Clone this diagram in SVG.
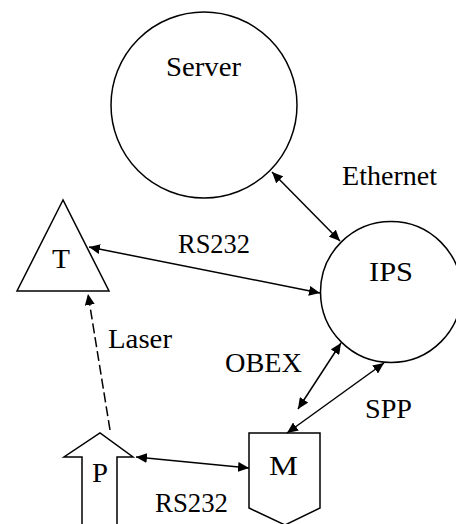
<svg xmlns="http://www.w3.org/2000/svg" width="456" height="524" viewBox="0 0 456 524">
<style>
.shape{fill:#fff;stroke:#000;stroke-width:1.5}
.lbl{font-family:'Liberation Serif','DejaVu Serif','Times New Roman',serif;font-size:28px;fill:#000}
.conn{stroke:#000;stroke-width:1.5;fill:none}
</style>
<defs>
<marker id="ah" markerUnits="userSpaceOnUse" markerWidth="12" markerHeight="10" refX="11" refY="5" orient="auto-start-reverse">
<path d="M0,0 L11,5 L0,10 z" fill="#000"/>
</marker>
</defs>
<rect width="456" height="524" fill="#fff"/>
<g id="server">
<circle class="shape" cx="204" cy="105" r="93"/>
<text class="lbl" font-family="Liberation Serif, serif" x="166" y="76" textLength="75" lengthAdjust="spacingAndGlyphs">Server</text>
</g>
<g id="ips">
<circle class="shape" cx="391" cy="292" r="70.5"/>
<text class="lbl" font-family="Liberation Serif, serif" x="369" y="281" textLength="44" lengthAdjust="spacingAndGlyphs">IPS</text>
</g>
<g id="t">
<path class="shape" d="M63,200 L17,291 L109,291 Z"/>
<text class="lbl" font-family="Liberation Serif, serif" x="52" y="268" textLength="18" lengthAdjust="spacingAndGlyphs">T</text>
</g>
<g id="m">
<path class="shape" d="M249,433 L320,433 L320,508 L285,525 L249,508 Z"/>
<text class="lbl" font-family="Liberation Serif, serif" x="269" y="475" textLength="29" lengthAdjust="spacingAndGlyphs">M</text>
</g>
<g id="p">
<path class="shape" d="M82,530 L82,457 L64,457 L100,433 L133,457 L117,457 L117,530"/>
<text class="lbl" font-family="Liberation Serif, serif" x="92" y="482" textLength="16" lengthAdjust="spacingAndGlyphs">P</text>
</g>
<g id="connectors">
<line class="conn" x1="272" y1="172" x2="340" y2="241" marker-start="url(#ah)" marker-end="url(#ah)"/>
<line class="conn" x1="89" y1="247" x2="320" y2="293" marker-start="url(#ah)" marker-end="url(#ah)"/>
<line class="conn" x1="110" y1="430" x2="88" y2="294" stroke-dasharray="10,4" marker-end="url(#ah)"/>
<line class="conn" x1="341" y1="343" x2="298" y2="409" marker-start="url(#ah)" marker-end="url(#ah)"/>
<line class="conn" x1="384" y1="363" x2="287" y2="433" marker-start="url(#ah)" marker-end="url(#ah)"/>
<line class="conn" x1="136" y1="457" x2="249" y2="468" marker-start="url(#ah)" marker-end="url(#ah)"/>
</g>
<g id="labels" font-family="Liberation Serif, serif">
<text class="lbl" font-family="Liberation Serif, serif" x="342" y="185" textLength="95" lengthAdjust="spacingAndGlyphs">Ethernet</text>
<text class="lbl" font-family="Liberation Serif, serif" x="178" y="253" textLength="72" lengthAdjust="spacingAndGlyphs">RS232</text>
<text class="lbl" font-family="Liberation Serif, serif" x="108" y="348" textLength="64" lengthAdjust="spacingAndGlyphs">Laser</text>
<text class="lbl" font-family="Liberation Serif, serif" x="225" y="372" textLength="77" lengthAdjust="spacingAndGlyphs">OBEX</text>
<text class="lbl" font-family="Liberation Serif, serif" x="365" y="418" textLength="47" lengthAdjust="spacingAndGlyphs">SPP</text>
<text class="lbl" font-family="Liberation Serif, serif" x="155" y="512" textLength="73" lengthAdjust="spacingAndGlyphs">RS232</text>
</g>
</svg>
